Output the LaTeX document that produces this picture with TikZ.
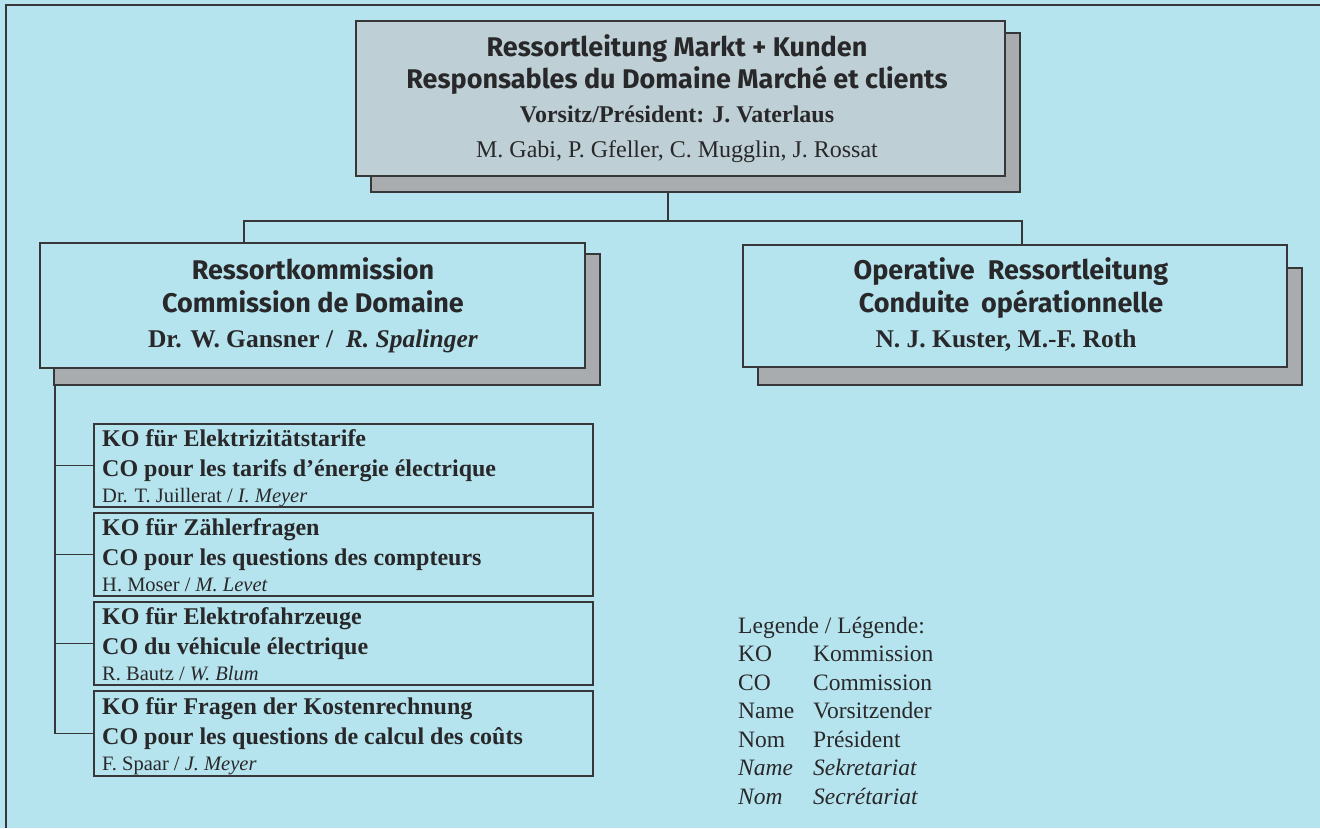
\documentclass[tikz,border=0pt]{standalone}
\usepackage{fontspec}
\setmainfont{Liberation Serif}
\newfontfamily\hdfont{Fira Sans}
\definecolor{bgc}{RGB}{182,228,238}
\definecolor{topc}{RGB}{190,208,214}
\definecolor{shadowc}{RGB}{168,172,175}
\definecolor{linec}{RGB}{55,55,58}
\definecolor{txtc}{RGB}{40,40,42}
\begin{document}
\begin{tikzpicture}[x=1pt,y=-1pt,
  box/.style={draw=linec, line width=1.4pt, rectangle, inner sep=0pt},
  shadowbox/.style={draw=linec, fill=shadowc, line width=1.4pt, rectangle, inner sep=0pt},
  conn/.style={draw=linec, line width=1.4pt},
  hd/.style={font=\hdfont\bfseries\fontsize{27}{27}\selectfont, text=txtc, anchor=base, inner sep=0pt},
  sbt/.style={font=\bfseries\fontsize{24}{24}\selectfont, text=txtc, anchor=base, inner sep=0pt},
  srt/.style={font=\fontsize{24}{24}\selectfont, text=txtc, anchor=base, inner sep=0pt},
  sbm/.style={font=\bfseries\fontsize{25.5}{25.5}\selectfont, text=txtc, anchor=base, inner sep=0pt},
  kob/.style={font=\bfseries\fontsize{24}{24}\selectfont, text=txtc, anchor=base west, inner sep=0pt},
  kor/.style={font=\fontsize{20.5}{20.5}\selectfont, text=txtc, anchor=base west, inner sep=0pt},
  leg/.style={font=\fontsize{23.5}{23.5}\selectfont, text=txtc, anchor=base west, inner sep=0pt}]
\fill[bgc] (0,0) rectangle (1320,828);
\useasboundingbox (0,0) rectangle (1320,828);
\draw[linec, line width=1.2pt] (6,828) -- (6,5) -- (1320,5);

% top box
\node[shadowbox, minimum width=649pt, minimum height=159pt] (tops) at (695.5,112.5) {};
\node[box, fill=topc, minimum width=649pt, minimum height=155pt] (top) at (680.5,98.5) {};
\node[hd] (t1) at (677,56) {Ressortleitung Markt + Kunden};
\node[hd] (t2) at (677,88) {Responsables du Domaine Marché et clients};
\node[sbt] (t3) at (677,122) {Vorsitz/Président: J. Vaterlaus};
\node[srt] (t4) at (677,157) {M. Gabi, P. Gfeller, C. Mugglin, J. Rossat};

% left box
\node[shadowbox, minimum width=546pt, minimum height=131pt] (lefts) at (327,319.5) {};
\node[box, fill=bgc, minimum width=545pt, minimum height=125pt] (left) at (312.5,305.5) {};
\node[hd] (l1) at (313,279) {Ressortkommission};
\node[hd] (l2) at (313,312) {Commission de Domaine};
\node[sbm] (l3) at (313,347) {Dr. W. Gansner / \ \textit{R. Spalinger}};

% right box
\node[shadowbox, minimum width=544pt, minimum height=117pt] (rights) at (1030,326.5) {};
\node[box, fill=bgc, minimum width=544pt, minimum height=122pt] (right) at (1015,306) {};
\node[hd] (r1) at (1011,279) {Operative\hspace{0.25em} Ressortleitung};
\node[hd] (r2) at (1011,312) {Conduite\hspace{0.2em} opérationnelle};
\node[sbm] (r3) at (1006,347) {N. J. Kuster, M.-F. Roth};

% connectors from top
\coordinate (j) at (668,221);
\coordinate (jl) at (244,221);
\coordinate (jr) at (1022,221);
\draw[conn] (tops.south -| j) -- (j);
\draw[conn] (left.north -| jl) -- (jl) -- (jr) -- (right.north -| jr);

% commission boxes
\node[box, fill=bgc, minimum width=499pt, minimum height=83pt] (k1) at (343.5,465.5) {};
\node[box, fill=bgc, minimum width=499pt, minimum height=83pt] (k2) at (343.5,554.5) {};
\node[box, fill=bgc, minimum width=499pt, minimum height=83pt] (k3) at (343.5,643.5) {};
\node[box, fill=bgc, minimum width=499pt, minimum height=85pt] (k4) at (343.5,733.5) {};

\node[kob] (k1a) at (102,446) {KO für Elektrizitätstarife};
\node[kob] (k1b) at (102,476) {CO pour les tarifs d’énergie électrique};
\node[kor] (k1c) at (102,502) {Dr. T. Juillerat / \textit{I. Meyer}};

\node[kob] (k2a) at (102,535) {KO für Zählerfragen};
\node[kob] (k2b) at (102,565) {CO pour les questions des compteurs};
\node[kor] (k2c) at (102,591) {H. Moser / \textit{M. Levet}};

\node[kob] (k3a) at (102,624) {KO für Elektrofahrzeuge};
\node[kob] (k3b) at (102,654) {CO du véhicule électrique};
\node[kor] (k3c) at (102,680) {R. Bautz / \textit{W. Blum}};

\node[kob] (k4a) at (102,714) {KO für Fragen der Kostenrechnung};
\node[kob] (k4b) at (102,744) {CO pour les questions de calcul des coûts};
\node[kor] (k4c) at (102,770) {F. Spaar / \textit{J. Meyer}};

% tree
\coordinate (v) at (55,0);
\draw[conn] (lefts.south -| v) -- (k4.west -| v) -- (k4.west);
\draw[conn] (k1.west -| v) -- (k1.west);
\draw[conn] (k2.west -| v) -- (k2.west);
\draw[conn] (k3.west -| v) -- (k3.west);

% legend
\node[leg] (lg0) at (738,633) {Legende / Légende:};
\node[leg] (lg1) at (738,661.5) {KO};
\node[leg] (lg1b) at (813,661.5) {Kommission};
\node[leg] (lg2) at (738,690) {CO};
\node[leg] (lg2b) at (813,690) {Commission};
\node[leg] (lg3) at (738,718.5) {Name};
\node[leg] (lg3b) at (813,718.5) {Vorsitzender};
\node[leg] (lg4) at (738,747) {Nom};
\node[leg] (lg4b) at (813,747) {Président};
\node[leg] (lg5) at (738,775.5) {\textit{Name}};
\node[leg] (lg5b) at (813,775.5) {\textit{Sekretariat}};
\node[leg] (lg6) at (738,804) {\textit{Nom}};
\node[leg] (lg6b) at (813,804) {\textit{Secrétariat}};
\end{tikzpicture}
\end{document}
